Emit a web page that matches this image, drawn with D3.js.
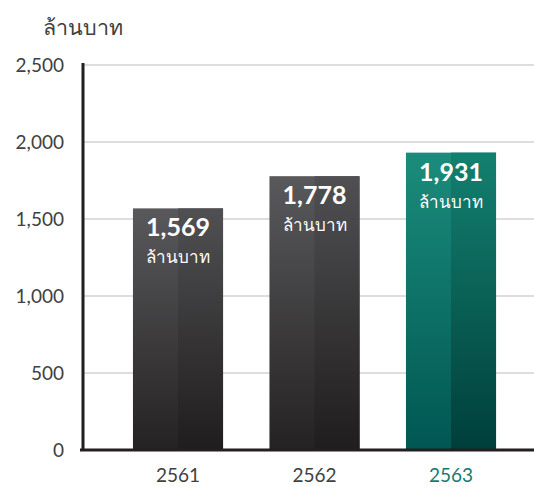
<!DOCTYPE html>
<html>
<head>
<meta charset="utf-8">
<script src="https://cdn.jsdelivr.net/npm/d3@7"></script>
<style>
  body { margin: 0; background: #fff; }
  svg { display: block; font-family: "Lato", "Noto Sans", sans-serif; }
</style>
</head>
<body>
<svg></svg>
<script>
// Chart data
const years = ["2561", "2562", "2563"];
const revenue = [1569, 1778, 1931];
const yTicks = [0, 500, 1000, 1500, 2000, 2500];
const unitLabel = "ล้านบาท";

const width = 534;
const height = 487;
const plotLeft = 83;
const plotBottom = 450;
const plotTop = 65;

const svg = d3.select("svg").attr("width", width).attr("height", height);

const x = d3
  .scaleBand()
  .domain(years)
  .range([plotLeft, 546])
  .paddingInner(0.34)
  .paddingOuter(0.366);

const y = d3.scaleLinear().domain([0, 2500]).range([plotBottom, plotTop]);

// Gradients for the two halves of each bar
const defs = svg.append("defs");
const grads = {
  darkL: ["#59595b", "#252223"],
  darkR: ["#505052", "#201d1e"],
  tealL: ["#1b8c7c", "#005753"],
  tealR: ["#13806f", "#003f3b"],
};
Object.entries(grads).forEach(([id, [c0, c1]]) => {
  const g = defs
    .append("linearGradient")
    .attr("id", id)
    .attr("x1", 0)
    .attr("y1", 0)
    .attr("x2", 0)
    .attr("y2", 1);
  g.append("stop").attr("offset", "0%").attr("stop-color", c0);
  g.append("stop").attr("offset", "100%").attr("stop-color", c1);
});

// Grid lines
svg
  .append("g")
  .selectAll("line")
  .data(yTicks.slice(1))
  .enter()
  .append("line")
  .attr("x1", plotLeft)
  .attr("x2", width)
  .attr("y1", (d) => y(d))
  .attr("y2", (d) => y(d))
  .attr("stroke", "#d2d2d2")
  .attr("stroke-width", 1.5);

// Y tick labels
svg
  .append("g")
  .selectAll("text")
  .data(yTicks)
  .enter()
  .append("text")
  .attr("x", 64)
  .attr("y", (d) => y(d))
  .attr("dy", "0.35em")
  .attr("text-anchor", "end")
  .attr("fill", "#404040")
  .style("font-size", "19px")
  .text((d) => d3.format(",")(d));

// Unit title
svg
  .append("text")
  .attr("x", 43)
  .attr("y", 35)
  .attr("fill", "#404040")
  .style("font-size", "21.5px")
  .text(unitLabel);

// Bars (each drawn as two halves)
const bars = svg
  .append("g")
  .selectAll("g")
  .data(years.map((yr, i) => ({ yr, v: revenue[i], last: i === years.length - 1 })))
  .enter()
  .append("g");

bars
  .append("rect")
  .attr("x", (d) => x(d.yr))
  .attr("y", (d) => y(d.v))
  .attr("width", x.bandwidth())
  .attr("height", (d) => plotBottom - y(d.v))
  .attr("fill", (d) => (d.last ? "url(#tealL)" : "url(#darkL)"));

bars
  .append("rect")
  .attr("x", (d) => x(d.yr) + x.bandwidth() / 2)
  .attr("y", (d) => y(d.v))
  .attr("width", x.bandwidth() / 2)
  .attr("height", (d) => plotBottom - y(d.v))
  .attr("fill", (d) => (d.last ? "url(#tealR)" : "url(#darkR)"));

// Value labels
bars
  .append("text")
  .attr("x", (d) => x(d.yr) + x.bandwidth() / 2)
  .attr("y", (d) => y(d.v) + 28)
  .attr("text-anchor", "middle")
  .attr("fill", "#fff")
  .style("font-size", "25px")
  .style("font-weight", "bold")
  .text((d) => d3.format(",")(d.v));

bars
  .append("text")
  .attr("x", (d) => x(d.yr) + x.bandwidth() / 2)
  .attr("y", (d) => y(d.v) + 55)
  .attr("text-anchor", "middle")
  .attr("fill", "#fff")
  .style("font-size", "17px")
  .text(unitLabel);

// Axes lines
svg
  .append("line")
  .attr("x1", plotLeft)
  .attr("x2", plotLeft)
  .attr("y1", plotTop - 2)
  .attr("y2", plotBottom + 1)
  .attr("stroke", "#231f20")
  .attr("stroke-width", 3);

svg
  .append("line")
  .attr("x1", 80)
  .attr("x2", width)
  .attr("y1", plotBottom)
  .attr("y2", plotBottom)
  .attr("stroke", "#231f20")
  .attr("stroke-width", 3);

// X labels
svg
  .append("g")
  .selectAll("text")
  .data(years)
  .enter()
  .append("text")
  .attr("x", (d) => x(d) + x.bandwidth() / 2)
  .attr("y", 482)
  .attr("text-anchor", "middle")
  .attr("fill", (d, i) => (i === years.length - 1 ? "#157a70" : "#404040"))
  .style("font-size", "19px")
  .text((d) => d);
</script>
</body>
</html>
